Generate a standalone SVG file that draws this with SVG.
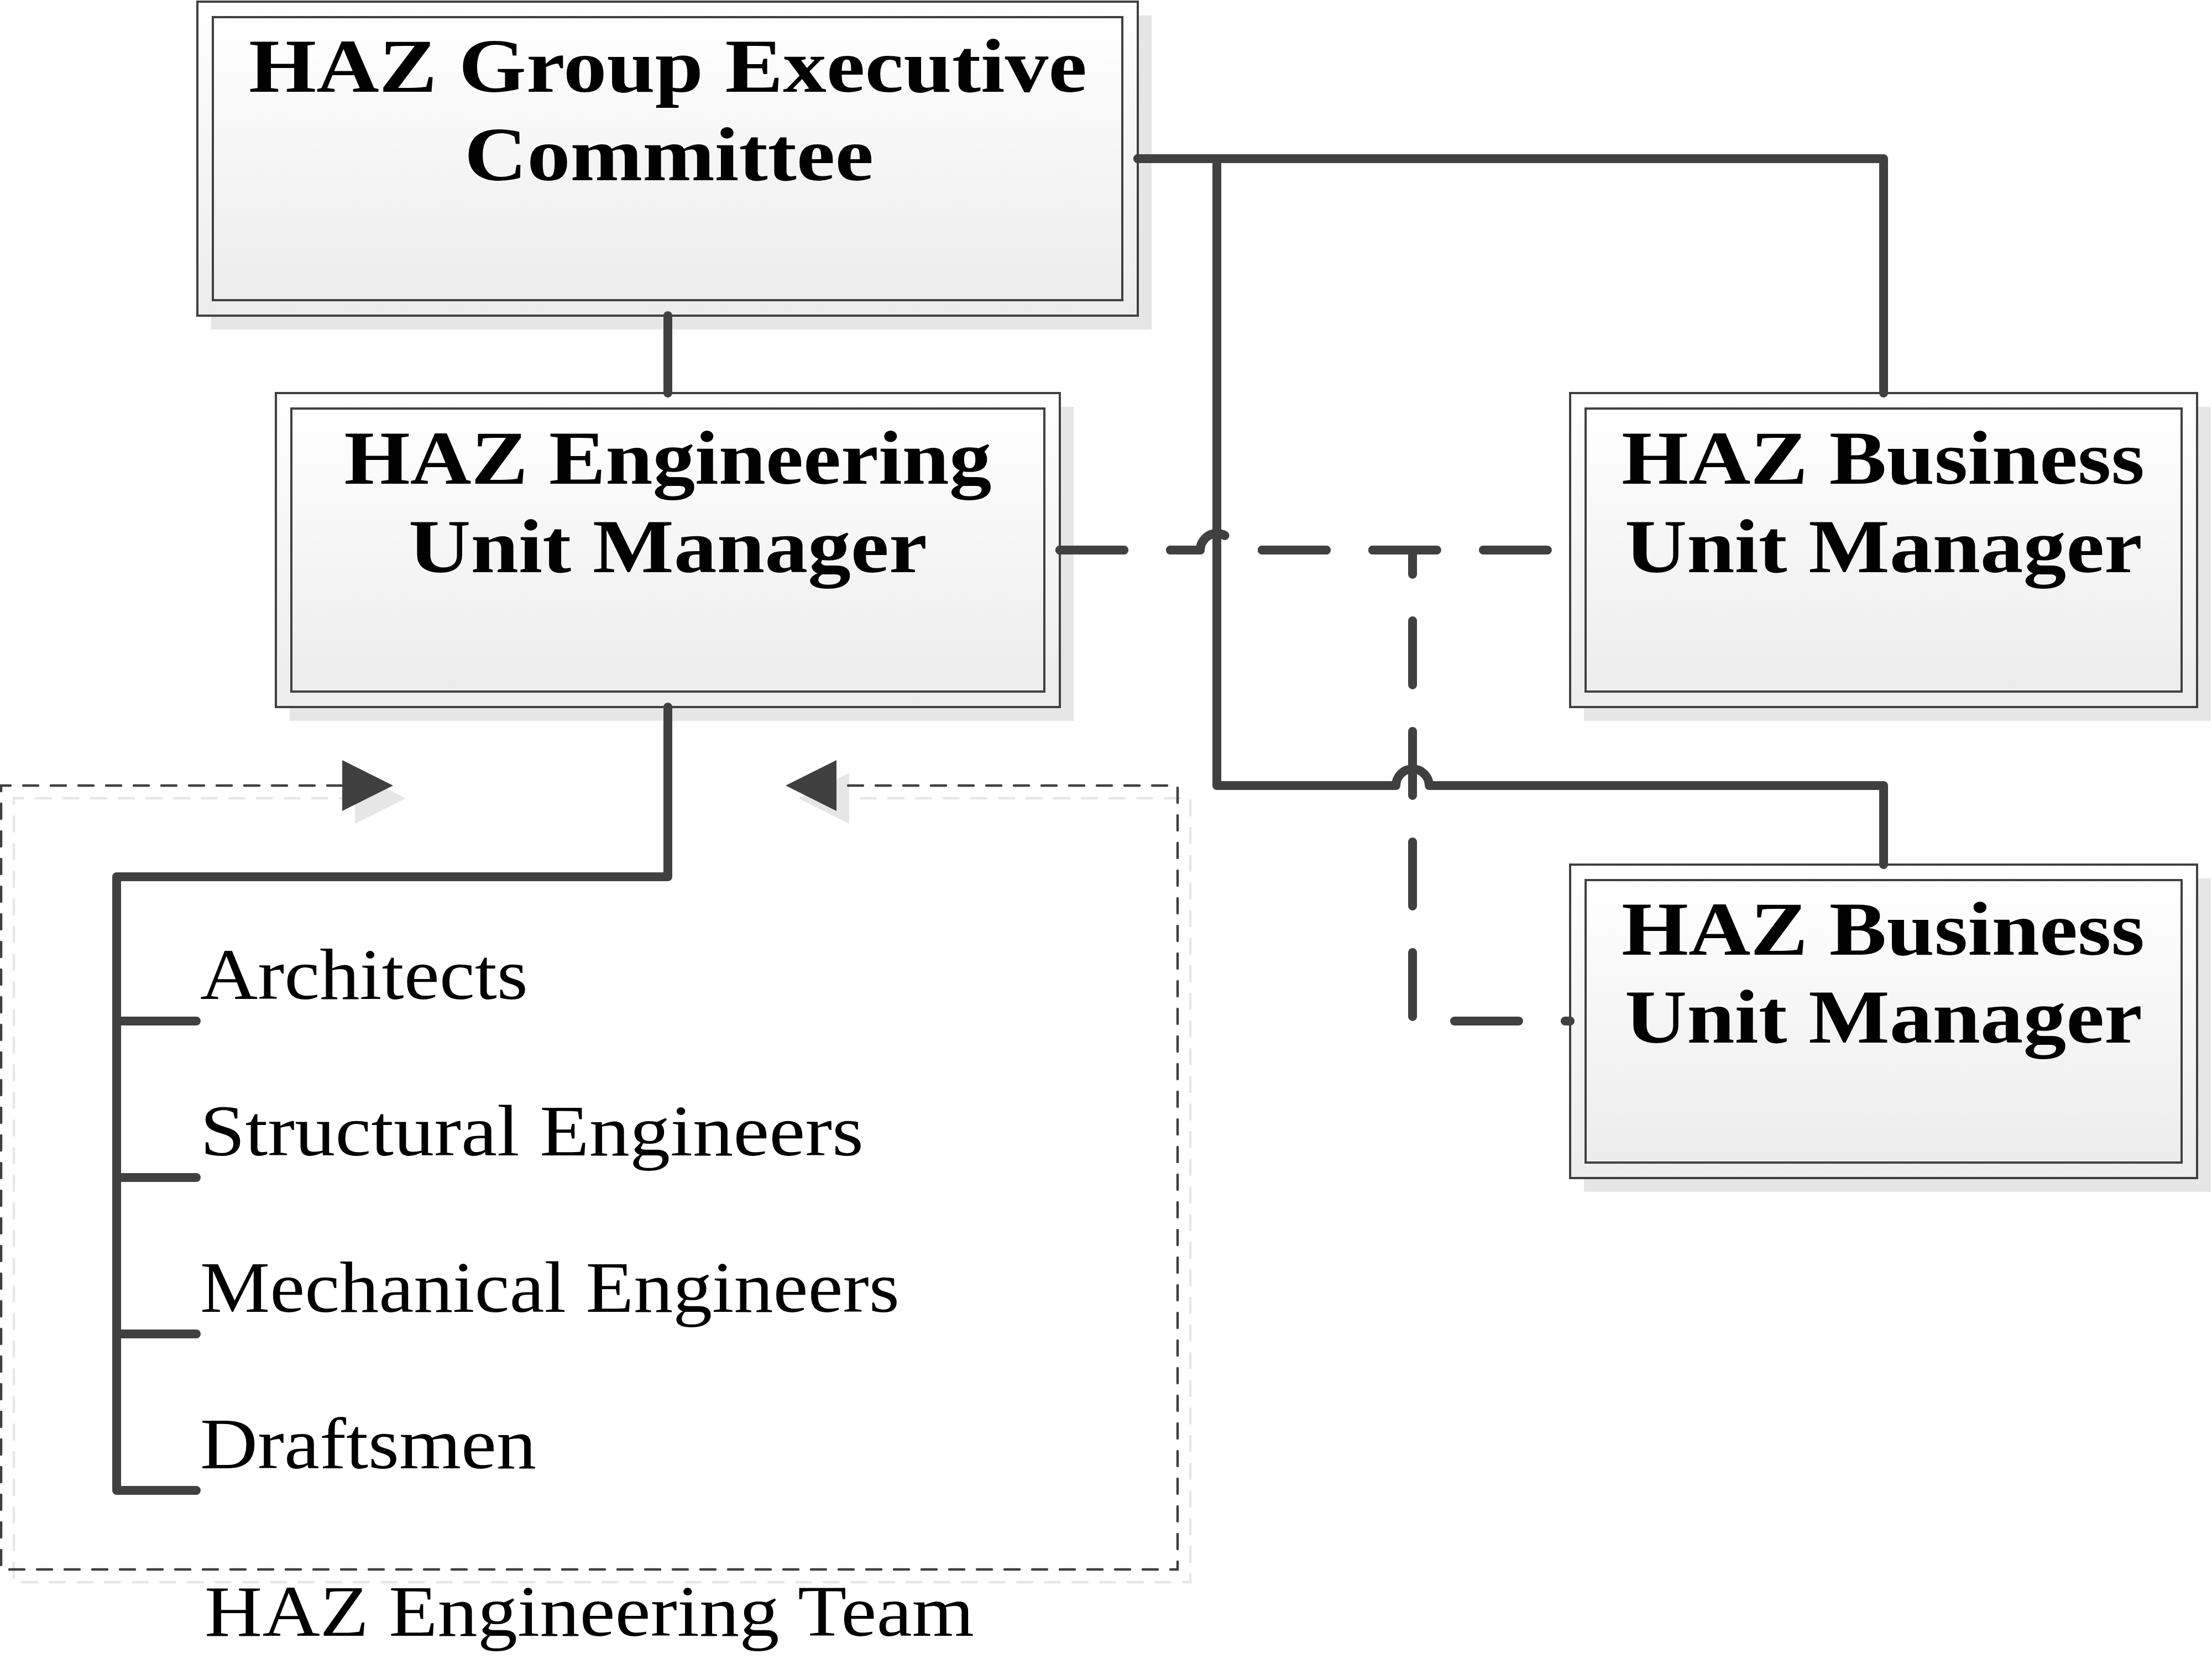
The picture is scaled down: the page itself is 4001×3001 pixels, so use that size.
<svg xmlns="http://www.w3.org/2000/svg" width="4001" height="3001" viewBox="0 0 4001 3001">
<defs>
<linearGradient id="fillG" x1="0" y1="0" x2="0" y2="1">
<stop offset="0" stop-color="#ffffff"/>
<stop offset="1" stop-color="#ececec"/>
</linearGradient>
<style>
.shadow{fill:#e6e6e6;stroke:none}
.outer{fill:url(#fillG);stroke:#404040;stroke-width:4}
.inner{fill:url(#fillG);stroke:#404040;stroke-width:4}
.bt{font-family:"Liberation Serif","DejaVu Serif",serif;font-weight:bold;font-size:137px;fill:#000;text-anchor:middle}
.rt{font-family:"Liberation Serif","DejaVu Serif",serif;font-size:132px;fill:#000}
.solid{fill:none;stroke:#404040;stroke-width:16;stroke-linecap:round;stroke-linejoin:round}
.dash{fill:none;stroke:#404040;stroke-width:16;stroke-linecap:round;stroke-linejoin:round;stroke-dasharray:116 84}
.cdash{fill:none;stroke:#404040;stroke-width:4.5;stroke-linecap:round;stroke-dasharray:27 23}
.cshadow{fill:none;stroke:#e6e6e6;stroke-width:4.5;stroke-linecap:round;stroke-dasharray:27 23}
</style>
</defs>
<rect width="4001" height="3001" fill="#ffffff"/>

<g id="team">
<g transform="translate(23,23)">
<path class="cshadow" d="M619,1421 H2 V2839 H2130 V1421 H1513"/>
<polygon points="619,1375 711,1421 619,1467" fill="#e6e6e6"/>
<polygon points="1513,1375 1421,1421 1513,1467" fill="#e6e6e6"/>
</g>
<path class="cdash" d="M619,1421 H2 V2839 H2130 V1421 H1513"/>
<polygon points="619,1375 711,1421 619,1467" fill="#404040"/>
<polygon points="1513,1375 1421,1421 1513,1467" fill="#404040"/>
<text class="rt" x="1066" y="2959" text-anchor="middle" textLength="1392" lengthAdjust="spacingAndGlyphs">HAZ Engineering Team</text>
<text class="rt" x="362" y="1807" textLength="593" lengthAdjust="spacingAndGlyphs">Architects</text>
<text class="rt" x="362" y="2090" textLength="1200" lengthAdjust="spacingAndGlyphs">Structural Engineers</text>
<text class="rt" x="362" y="2373" textLength="1265" lengthAdjust="spacingAndGlyphs">Mechanical Engineers</text>
<text class="rt" x="362" y="2656" textLength="608" lengthAdjust="spacingAndGlyphs">Draftsmen</text>
</g>

<g id="exec">
<rect class="shadow" x="382" y="28" width="1701" height="568"/>
<rect class="outer" x="357" y="3" width="1701" height="568"/>
<rect class="inner" x="385" y="31" width="1645" height="512"/>
<text class="bt" x="1208" y="166" textLength="1516" lengthAdjust="spacingAndGlyphs">HAZ Group Executive</text>
<text class="bt" x="1210" y="326" textLength="740" lengthAdjust="spacingAndGlyphs">Committee</text>
</g>

<g id="eng">
<rect class="shadow" x="524" y="736" width="1418" height="568"/>
<rect class="outer" x="499" y="711" width="1418" height="568"/>
<rect class="inner" x="527" y="739" width="1362" height="512"/>
<text class="bt" x="1208" y="875" textLength="1171" lengthAdjust="spacingAndGlyphs">HAZ Engineering</text>
<text class="bt" x="1208" y="1035" textLength="938" lengthAdjust="spacingAndGlyphs">Unit Manager</text>
</g>

<g id="bu1">
<rect class="shadow" x="2865" y="736" width="1134" height="568"/>
<rect class="outer" x="2840" y="711" width="1134" height="568"/>
<rect class="inner" x="2868" y="739" width="1078" height="512"/>
<text class="bt" x="3406" y="875" textLength="946" lengthAdjust="spacingAndGlyphs">HAZ Business</text>
<text class="bt" x="3407" y="1035" textLength="936" lengthAdjust="spacingAndGlyphs">Unit Manager</text>
</g>

<g id="bu2">
<rect class="shadow" x="2865" y="1589" width="1134" height="567"/>
<rect class="outer" x="2840" y="1564" width="1134" height="567"/>
<rect class="inner" x="2868" y="1592" width="1078" height="511"/>
<text class="bt" x="3406" y="1727" textLength="946" lengthAdjust="spacingAndGlyphs">HAZ Business</text>
<text class="bt" x="3407" y="1886" textLength="936" lengthAdjust="spacingAndGlyphs">Unit Manager</text>
</g>

<g id="connectors">
<path class="solid" d="M1208,571 V711"/>
<path class="solid" d="M2058,287 H3407 V711"/>
<path class="solid" d="M2058,287 H2201 V1421 H2525 A30,30 0 0 1 2585,1421 H3407 V1564"/>
<path class="dash" d="M1917,995 H2171 A30,30 0 0 1 2231,995 H2840"/>
<path class="dash" d="M1917,995 H2171 A30,30 0 0 1 2231,995 H2555 V1847 H2840"/>
<path class="solid" d="M1208,1279 V1586 H211 V2696 H355"/>
<path class="solid" d="M211,1847 H355"/>
<path class="solid" d="M211,2130 H355"/>
<path class="solid" d="M211,2413 H355"/>
</g>
</svg>
